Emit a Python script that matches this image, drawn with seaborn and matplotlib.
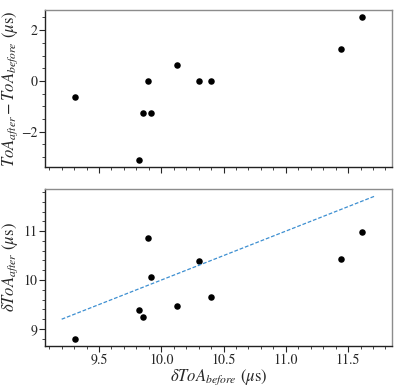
import matplotlib
matplotlib.use('Agg')
import matplotlib.pyplot as plt
from matplotlib.ticker import MultipleLocator
import seaborn as sns
import pandas as pd

# measured values (microseconds)
toa_before = [9.31, 9.82, 9.85, 9.89, 9.92, 10.13, 10.30, 10.40, 11.44, 11.61]
toa_diff = [-0.62, -3.12, -1.25, 0.0, -1.25, 0.63, 0.0, 0.0, 1.25, 2.50]
toa_after = [8.80, 9.39, 9.25, 10.86, 10.06, 9.46, 10.39, 9.65, 10.43, 10.99]
# identity reference line
line_x = [9.20, 11.72]
line_y = [9.20, 11.72]

df = pd.DataFrame({'before': toa_before, 'diff': toa_diff, 'after': toa_after})

sns.set_style('ticks')
plt.rcParams.update({
    'font.family': ['STIXGeneral', 'Liberation Serif', 'DejaVu Serif'],
    'mathtext.fontset': 'stix',
    'xtick.direction': 'out',
    'ytick.direction': 'out',
    'xtick.major.size': 4,
    'ytick.major.size': 4,
    'xtick.minor.size': 2,
    'ytick.minor.size': 2,
    'xtick.minor.visible': True,
    'ytick.minor.visible': True,
})

fig = plt.figure(figsize=(3.99, 3.87), dpi=100)
ax1 = fig.add_axes([0.1128, 0.5685, 0.8697, 0.4055])
ax2 = fig.add_axes([0.1128, 0.106, 0.8697, 0.4056], sharex=ax1)

sns.scatterplot(data=df, x='before', y='diff', ax=ax1, color='black',
                s=22, edgecolor='black', linewidth=0)
sns.scatterplot(data=df, x='before', y='after', ax=ax2, color='black',
                s=22, edgecolor='black', linewidth=0)
ax2.plot(line_x, line_y, color='#3d8fd1', linewidth=0.9, linestyle=(0, (3, 1.5)))

for ax in (ax1, ax2):
    for side in ('top', 'right'):
        ax.spines[side].set_color('#8c8c8c')
    for side in ('left', 'bottom'):
        ax.spines[side].set_color('#222222')
    ax.spines[:].set_linewidth(1.0)
    ax.tick_params(which='both', top=False, right=False, labelsize=10, pad=1.5)
    ax.xaxis.set_major_locator(MultipleLocator(0.5))
    ax.xaxis.set_minor_locator(MultipleLocator(0.1))

ax1.set_xlim(9.066, 11.853)
ax1.set_ylim(-3.39, 2.79)
ax1.yaxis.set_major_locator(MultipleLocator(2))
ax1.yaxis.set_minor_locator(MultipleLocator(0.5))
ax1.tick_params(axis='x', labelbottom=False)
ax1.set_xlabel('')
ax1.set_ylabel(r'$ToA_{after} - ToA_{before}$ ($\mu$s)', fontsize=12)
ax1.yaxis.set_label_coords(-0.072, 0.5)

ax2.set_ylim(8.653, 11.86)
ax2.yaxis.set_major_locator(MultipleLocator(1))
ax2.yaxis.set_minor_locator(MultipleLocator(0.2))
ax2.set_xlabel(r'$\delta ToA_{before}$ ($\mu$s)', fontsize=12, labelpad=0)
ax2.set_ylabel(r'$\delta ToA_{after}$ ($\mu$s)', fontsize=12)
ax2.yaxis.set_label_coords(-0.072, 0.5)

fig.savefig('out.png', dpi=100)
